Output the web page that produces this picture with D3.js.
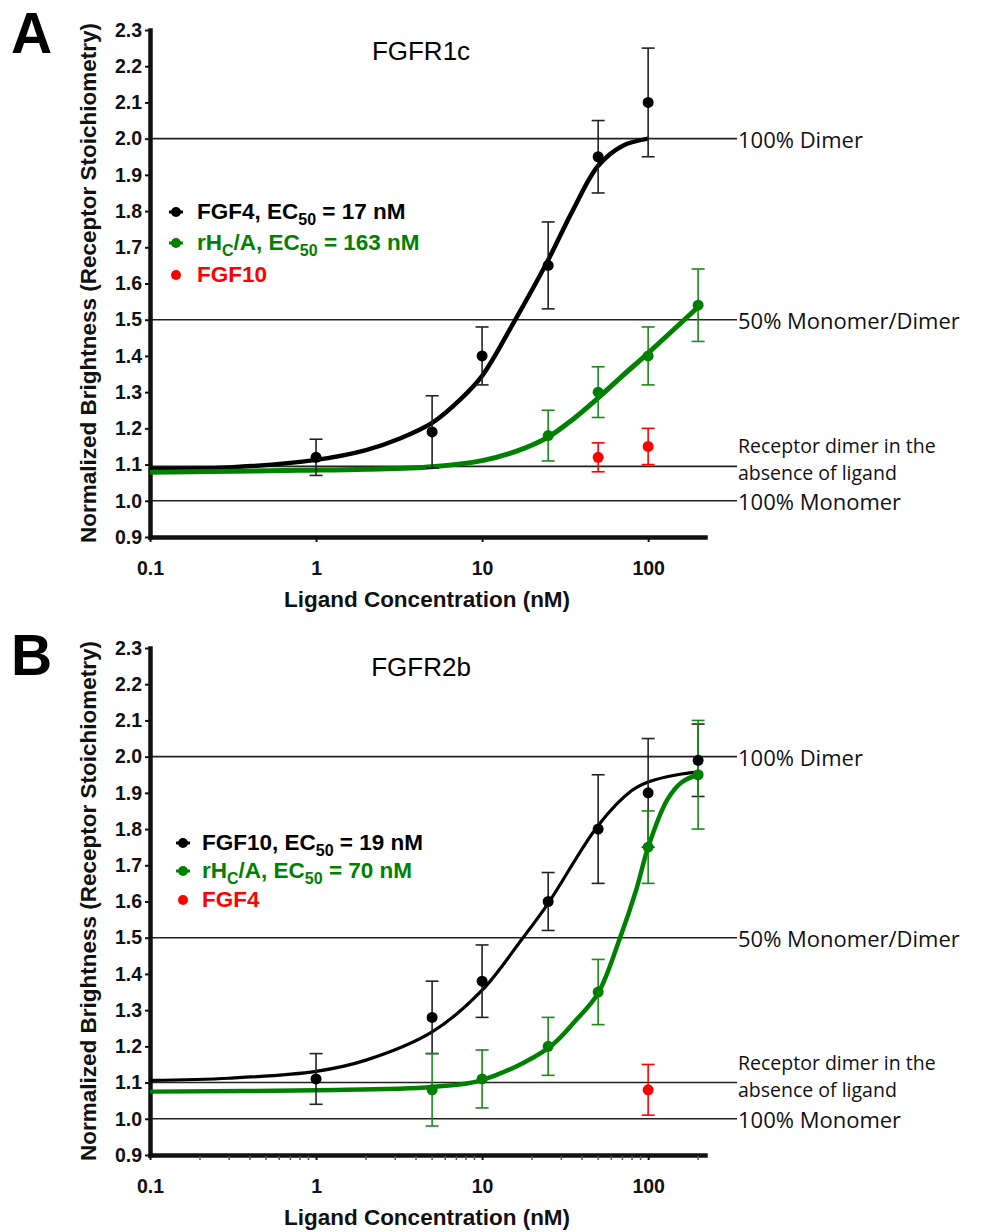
<!DOCTYPE html>
<html>
<head>
<meta charset="utf-8">
<script src="https://cdn.jsdelivr.net/npm/d3@7"></script>
<style>
    body { margin: 0; background: #fff; }
    svg { display: block; }
</style>
</head>
<body>
<div id="plotRegi"></div>
<script>
/* Data */
// Shared axes
var xTicks = [0.1, 1, 10, 100]
var yTicks = [0.9, 1.0, 1.1, 1.2, 1.3, 1.4, 1.5, 1.6, 1.7, 1.8, 1.9, 2.0, 2.1, 2.2, 2.3]
var minorTicks = [0.2, 0.3, 0.4, 0.5, 0.6, 0.7, 0.8, 0.9, 2, 3, 4, 5, 6, 7, 8, 9, 20, 30, 40, 50, 60, 70, 80, 90, 200]

// Panel A: FGFR1c
var aBlackPts = [
    { x: 1, y: 1.12, lo: 1.07, hi: 1.17 },
    { x: 5, y: 1.19, lo: 1.09, hi: 1.29 },
    { x: 10, y: 1.40, lo: 1.32, hi: 1.48 },
    { x: 25, y: 1.65, lo: 1.53, hi: 1.77 },
    { x: 50, y: 1.95, lo: 1.85, hi: 2.05 },
    { x: 100, y: 2.10, lo: 1.95, hi: 2.25 }
]
var aGreenPts = [
    { x: 25, y: 1.18, lo: 1.11, hi: 1.25 },
    { x: 50, y: 1.30, lo: 1.23, hi: 1.37 },
    { x: 100, y: 1.40, lo: 1.32, hi: 1.48 },
    { x: 200, y: 1.54, lo: 1.44, hi: 1.64 }
]
var aRedPts = [
    { x: 50, y: 1.12, lo: 1.08, hi: 1.16 },
    { x: 100, y: 1.15, lo: 1.10, hi: 1.20 }
]
var aBlackCurve = [[0.1, 1.088], [0.3, 1.092], [1, 1.113], [2, 1.14], [3.2, 1.172], [5, 1.215], [7.4, 1.28],
    [10, 1.345], [15.4, 1.49], [25, 1.665], [35, 1.80], [50, 1.925], [70, 1.98], [100, 2.0]]
var aGreenCurve = [[0.1, 1.079], [0.8, 1.084], [2, 1.087], [5, 1.094], [10, 1.111], [16.3, 1.138], [25, 1.176],
    [35, 1.224], [50, 1.284], [70, 1.345], [100, 1.408], [200, 1.535]]
var aRefs = [2.0, 1.5, 1.095, 1.0]
var aRefLabels = [["100% Dimer"], ["50% Monomer/Dimer"], ["Receptor dimer in the", "absence of ligand"], ["100% Monomer"]]
var aLegend = [
    [{ t: "FGF4, EC" }, { t: "50", sub: true }, { t: " = 17 nM" }],
    [{ t: "rH" }, { t: "C", sub: true }, { t: "/A, EC" }, { t: "50", sub: true }, { t: " = 163 nM" }],
    [{ t: "FGF10" }]
]

// Panel B: FGFR2b
var bBlackPts = [
    { x: 1, y: 1.11, lo: 1.04, hi: 1.18 },
    { x: 5, y: 1.28, lo: 1.18, hi: 1.38 },
    { x: 10, y: 1.38, lo: 1.28, hi: 1.48 },
    { x: 25, y: 1.60, lo: 1.52, hi: 1.68 },
    { x: 50, y: 1.80, lo: 1.65, hi: 1.95 },
    { x: 100, y: 1.90, lo: 1.75, hi: 2.05 },
    { x: 200, y: 1.99, lo: 1.89, hi: 2.09 }
]
var bGreenPts = [
    { x: 5, y: 1.08, lo: 0.98, hi: 1.18 },
    { x: 10, y: 1.11, lo: 1.03, hi: 1.19 },
    { x: 25, y: 1.20, lo: 1.12, hi: 1.28 },
    { x: 50, y: 1.35, lo: 1.26, hi: 1.44 },
    { x: 100, y: 1.75, lo: 1.65, hi: 1.85 },
    { x: 200, y: 1.95, lo: 1.80, hi: 2.10 }
]
var bRedPts = [
    { x: 100, y: 1.08, lo: 1.01, hi: 1.15 }
]
var bBlackCurve = [[0.1, 1.106], [0.3, 1.112], [1, 1.131], [2, 1.162], [5, 1.24], [10, 1.355], [17.5, 1.498],
    [25, 1.595], [50, 1.81], [79, 1.905], [100, 1.93], [150, 1.95], [200, 1.957]]
var bGreenCurve = [[0.1, 1.075], [1, 1.079], [5, 1.088], [10, 1.107], [25, 1.195], [36.7, 1.272], [50, 1.347],
    [67.5, 1.498], [84.5, 1.63], [100, 1.75], [130, 1.88], [160, 1.93], [200, 1.95]]
var bRefs = [2.0, 1.5, 1.1, 1.0]
var bRefLabels = aRefLabels
var bLegend = [
    [{ t: "FGF10, EC" }, { t: "50", sub: true }, { t: " = 19 nM" }],
    [{ t: "rH" }, { t: "C", sub: true }, { t: "/A, EC" }, { t: "50", sub: true }, { t: " = 70 nM" }],
    [{ t: "FGF4" }]
]

var BLACK = "#000", GREEN = "#008000", RED = "#ff0000"


/* Drawing */
var svg = d3
    .select("#plotRegi")
    .append("svg")
    .attr("width", 982)
    .attr("height", 1232)

drawPanel({
    top: 0, letter: "A", title: "FGFR1c", titleY: 60, letterY: 53,
    black: aBlackPts, green: aGreenPts, red: aRedPts,
    blackCurve: aBlackCurve, greenCurve: aGreenCurve, blackW: 4.5, greenW: 5,
    refs: aRefs, refLabels: aRefLabels,
    legend: aLegend, legX: 176, legTextX: 197, legY: [219, 250, 282],
    minor: false
})

drawPanel({
    top: 618, letter: "B", title: "FGFR2b", titleY: 58, letterY: 57,
    black: bBlackPts, green: bGreenPts, red: bRedPts,
    blackCurve: bBlackCurve, greenCurve: bGreenCurve, blackW: 3.2, greenW: 4.5,
    refs: bRefs, refLabels: bRefLabels,
    legend: bLegend, legX: 183, legTextX: 202, legY: [232, 260, 289],
    minor: true
})


/* Function */
function drawPanel(P) {
    var g = svg.append("g").attr("transform", "translate(0," + P.top + ")")

    var scale_x = d3.scaleLog().domain([0.1, 220]).range([150, 705])
    var scale_y = d3.scaleLinear().domain([0.9, 2.3]).range([537, 30])

    // Panel letter & title
    g.append("text")
        .attr("x", 11).attr("y", P.letterY)
        .style("font-family", "Liberation Sans, Arial, sans-serif")
        .style("font-weight", "bold").style("font-size", "57px")
        .text(P.letter)

    g.append("text")
        .attr("x", 421).attr("y", P.titleY)
        .attr("text-anchor", "middle")
        .style("font-family", "Liberation Sans, Arial, sans-serif")
        .style("font-size", "26px")
        .text(P.title)

    // Reference lines
    g.selectAll("NONE")
        .data(P.refs)
        .enter()
        .append("line")
        .attr("x1", 150).attr("x2", 737)
        .attr("y1", d => scale_y(d)).attr("y2", d => scale_y(d))
        .style("stroke", "#222").style("stroke-width", "1.6px")

    P.refs.forEach(function (v, i) {
        var lines = P.refLabels[i]
        var y0 = scale_y(v)
        var t = g.append("text")
            .attr("x", 738)
            .style("font-family", "Open Sans, sans-serif")
            .style("fill", "#111")
        if (lines.length == 1) {
            t.attr("y", y0 + 9).style("font-size", "22px").text(lines[0])
        } else {
            t.style("font-size", "19.5px")
            t.append("tspan").attr("x", 738).attr("y", y0 - 13).text(lines[0])
            t.append("tspan").attr("x", 738).attr("y", y0 + 14).text(lines[1])
        }
    })

    // Axes
    var ax = g.append("g")
        .attr("transform", "translate(0,537)")
        .call(d3.axisBottom(scale_x).tickValues(xTicks).tickFormat(d => String(d)).tickSize(5).tickSizeOuter(0).tickPadding(19))
    var ay = g.append("g")
        .attr("transform", "translate(150,0)")
        .call(d3.axisLeft(scale_y).tickValues(yTicks).tickFormat(d3.format(".1f")).tickSize(5).tickSizeOuter(0).tickPadding(3))

    ;[ax, ay].forEach(function (a) {
        a.select(".domain").style("stroke", "#111").style("stroke-width", "4.5px").style("stroke-linecap", "square")
        a.selectAll(".tick line").style("stroke", "#111").style("stroke-width", "2px")
        a.selectAll("text")
            .style("font-family", "Liberation Sans, Arial, sans-serif")
            .style("font-weight", "bold").style("font-size", "19.5px")
            .style("fill", "#111")
    })

    if (P.minor) {
        g.append("g")
            .selectAll("NONE")
            .data(minorTicks)
            .enter()
            .append("line")
            .attr("x1", d => scale_x(d)).attr("x2", d => scale_x(d))
            .attr("y1", 538).attr("y2", 542)
            .style("stroke", "#555").style("stroke-width", "1.5px")
    }

    // Axis titles
    g.append("text")
        .attr("transform", "translate(96,283) rotate(-90)")
        .attr("text-anchor", "middle")
        .style("font-family", "Liberation Sans, Arial, sans-serif")
        .style("font-weight", "bold").style("font-size", "22.5px")
        .style("fill", "#111")
        .text("Normalized Brightness (Receptor Stoichiometry)")

    g.append("text")
        .attr("x", 427).attr("y", 607)
        .attr("text-anchor", "middle")
        .style("font-family", "Liberation Sans, Arial, sans-serif")
        .style("font-weight", "bold").style("font-size", "22.5px")
        .style("fill", "#111")
        .text("Ligand Concentration (nM)")

    // Fitted curves
    var line = d3.line()
        .x(d => scale_x(d[0]))
        .y(d => scale_y(d[1]))
        .curve(d3.curveCatmullRom.alpha(0.5))

    g.append("path").datum(P.blackCurve).attr("d", line)
        .style("fill", "none").style("stroke", BLACK).style("stroke-width", P.blackW + "px")
    g.append("path").datum(P.greenCurve).attr("d", line)
        .style("fill", "none").style("stroke", GREEN).style("stroke-width", P.greenW + "px")

    // Error bars & points
    var series = [
        { pts: P.black, color: BLACK, bar: "#222" },
        { pts: P.green, color: GREEN, bar: "#1a8a1a" },
        { pts: P.red, color: RED, bar: RED }
    ]

    series.forEach(function (s) {
        var eb = g.append("g")
        eb.selectAll("NONE").data(s.pts).enter().append("line")
            .attr("x1", d => scale_x(d.x)).attr("x2", d => scale_x(d.x))
            .attr("y1", d => scale_y(d.lo)).attr("y2", d => scale_y(d.hi))
            .style("stroke", s.bar).style("stroke-width", "1.6px")
        ;["lo", "hi"].forEach(function (k) {
            eb.selectAll("NONE").data(s.pts).enter().append("line")
                .attr("x1", d => scale_x(d.x) - 6.5).attr("x2", d => scale_x(d.x) + 6.5)
                .attr("y1", d => scale_y(d[k])).attr("y2", d => scale_y(d[k]))
                .style("stroke", s.bar).style("stroke-width", "1.6px")
        })
    })

    series.forEach(function (s) {
        g.append("g").selectAll("NONE").data(s.pts).enter().append("circle")
            .attr("cx", d => scale_x(d.x)).attr("cy", d => scale_y(d.y))
            .attr("r", 5.5)
            .style("fill", s.color)
    })

    // Legend
    var legColors = [BLACK, GREEN, RED]
    P.legend.forEach(function (parts, i) {
        var yb = P.legY[i]
        var c = legColors[i]
        if (i < 2) {
            g.append("line")
                .attr("x1", P.legX - 7).attr("x2", P.legX + 7)
                .attr("y1", yb - 7).attr("y2", yb - 7)
                .style("stroke", c).style("stroke-width", "3px")
        }
        g.append("circle").attr("cx", P.legX).attr("cy", yb - 7).attr("r", 5).style("fill", c)

        var t = g.append("text")
            .attr("x", P.legTextX).attr("y", yb)
            .style("font-family", "Liberation Sans, Arial, sans-serif")
            .style("font-weight", "bold").style("font-size", "22.5px")
            .style("fill", c)
        var shifted = false
        parts.forEach(function (p) {
            var ts = t.append("tspan").text(p.t)
            if (p.sub) {
                ts.style("font-size", "16px").attr("dy", shifted ? 0 : 6)
                shifted = true
            } else if (shifted) {
                ts.attr("dy", -6)
                shifted = false
            }
        })
    })
}
</script>
</body>
</html>
